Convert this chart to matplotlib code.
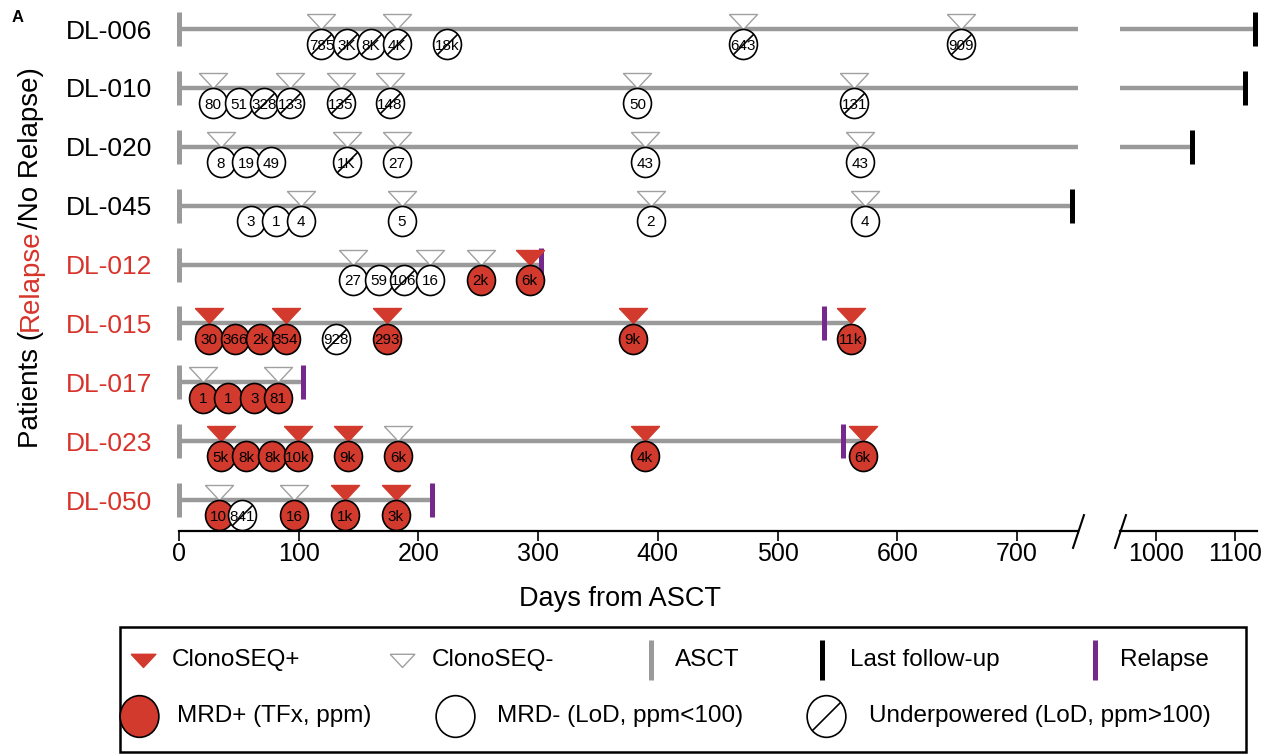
import matplotlib
matplotlib.use("Agg")
import matplotlib.pyplot as plt
from matplotlib.path import Path
from matplotlib.patches import Rectangle

plt.rcParams['font.family'] = ['Liberation Sans', 'DejaVu Sans']

# patients from top to bottom, red = relapse
patients = ["DL-006", "DL-010", "DL-020", "DL-045", "DL-012", "DL-015", "DL-017", "DL-023", "DL-050"]
relapsed = [False, False, False, False, True, True, True, True, True]

# clonoSEQ tests (days from ASCT), True = ClonoSEQ+
clono_days = [[119, 182, 471, 653],
              [28, 93, 135, 176, 383, 564],
              [35, 140, 182, 389, 569],
              [102, 186, 394, 573],
              [145, 210, 252, 293],
              [25, 89, 174, 379, 561],
              [20, 83],
              [35, 99, 141, 183, 389, 571],
              [33, 96, 139, 181]]
clono_pos = [[False] * 4,
             [False] * 6,
             [False] * 5,
             [False] * 4,
             [False, False, False, True],
             [True] * 5,
             [False, False],
             [True, True, True, False, True, True],
             [False, False, True, True]]

# MRD tests: day, value label, status (p = MRD+, n = MRD-, u = underpowered)
mrd_days = [[119, 140, 160, 182, 224, 471, 653],
            [28, 50, 71, 93, 135, 176, 383, 564],
            [35, 56, 77, 140, 182, 389, 569],
            [60, 81, 102, 186, 394, 573],
            [145, 167, 188, 210, 252, 293],
            [25, 47, 68, 89, 131, 174, 379, 561],
            [20, 41, 63, 83],
            [35, 56, 78, 99, 141, 183, 389, 571],
            [33, 53, 96, 139, 181]]
mrd_labels = [["785", "3K", "8K", "4K", "18k", "643", "909"],
              ["80", "51", "328", "133", "135", "148", "50", "131"],
              ["8", "19", "49", "1K", "27", "43", "43"],
              ["3", "1", "4", "5", "2", "4"],
              ["27", "59", "106", "16", "2k", "6k"],
              ["30", "366", "2k", "354", "928", "293", "9k", "11k"],
              ["1", "1", "3", "81"],
              ["5k", "8k", "8k", "10k", "9k", "6k", "4k", "6k"],
              ["10", "841", "16", "1k", "3k"]]
mrd_status = [["u", "u", "u", "u", "u", "u", "u"],
              ["n", "n", "u", "u", "u", "u", "n", "u"],
              ["n", "n", "n", "u", "n", "n", "n"],
              ["n", "n", "n", "n", "n", "n"],
              ["n", "n", "u", "n", "p", "p"],
              ["p", "p", "p", "p", "u", "p", "p", "p"],
              ["p", "p", "p", "p"],
              ["p", "p", "p", "p", "p", "p", "p", "p"],
              ["p", "u", "p", "p", "p"]]

relapse_day = [None, None, None, None, 302, 539, 104, 555, 211]
last_fu = [1124, 1112, 1045, 746, None, None, None, None, None]

left_ticks = [0, 100, 200, 300, 400, 500, 600, 700]
right_ticks = [1000, 1100]

RED = '#d13a2c'
GREY = '#9a9a9a'
PURPLE = '#76288c'
LBLRED = '#d8332b'

W, H = 1278, 755
fig = plt.figure(figsize=(W / 100, H / 100), dpi=100)

ax = fig.add_axes([179 / W, 1 - 531 / H, (1078 - 179) / W, 531 / H])
ax2 = fig.add_axes([1120 / W, 1 - 531 / H, (1257 - 1120) / W, 531 / H])
ax.set_xlim(0, 751)
ax2.set_xlim(955, 1127)
for a in (ax, ax2):
    a.set_ylim(-0.5265, 8.4926)
    for s in ['top', 'left', 'right']:
        a.spines[s].set_visible(False)
    a.spines['bottom'].set_linewidth(1.6)
    a.tick_params(axis='x', length=7, width=1.2, pad=1, labelsize=18)
    a.patch.set_alpha(0)

# marker shapes
circ = Path.unit_circle()
ellipse = Path(circ.vertices * [0.93, 1.0], circ.codes)
tri_down = [(-1, 1.07), (1, 1.07), (0, 0), (-1, 1.07)]
slash = [(-1, -1), (1, 1)]

n = len(patients)
rows = [n - 1 - i for i in range(n)]
cdy = 0.26  # circles sit just under the line

for i in range(n):
    y = rows[i]
    if relapse_day[i] is None:
        end = last_fu[i]
    else:
        end = max(relapse_day[i], max(mrd_days[i]))
    ax.plot([0, end], [y, y], color=GREY, lw=3.2, solid_capstyle='butt', zorder=1)
    ax.plot([0], [y], marker='|', ms=24, mew=3.6, color=GREY, clip_on=False, zorder=1.5)

    if last_fu[i] is not None:
        if last_fu[i] > ax.get_xlim()[1]:
            ax2.plot([0, end], [y, y], color=GREY, lw=3.2, solid_capstyle='butt', zorder=1)
            ax2.plot([last_fu[i]], [y], marker='|', ms=25, mew=3.6, color='black', clip_on=False, zorder=2)
        else:
            ax.plot([last_fu[i]], [y], marker='|', ms=25, mew=3.6, color='black', clip_on=False, zorder=2)
    if relapse_day[i] is not None:
        ax.plot([relapse_day[i]], [y], marker='|', ms=25, mew=3.6, color=PURPLE, zorder=1.8)

    for d, p in zip(clono_days[i], clono_pos[i]):
        ax.plot([d], [y], ls='none', marker=tri_down, ms=21.6,
                mfc=RED if p else 'white', mec=RED if p else '#a0a0a0', mew=1, zorder=2.5)

    for k, (d, lab, s) in enumerate(zip(mrd_days[i], mrd_labels[i], mrd_status[i])):
        z = 3 + k * 0.01
        cy = y - cdy
        ax.plot([d], [cy], ls='none', marker=ellipse, ms=21.6,
                mfc=RED if s == 'p' else 'white', mec='black', mew=1.2, zorder=z, clip_on=False)
        ax.text(d, cy, lab, ha='center', va='center_baseline', fontsize=11, zorder=z + 0.003)
        if s == 'u':
            ax.plot([d], [cy], ls='none', marker=slash, ms=14.5, mec='black', mew=1.2, zorder=z + 0.006)

# axis ticks and labels
ax.set_xticks(left_ticks)
ax2.set_xticks(right_ticks)
ax2.set_yticks([])
ax.set_yticks(rows)
ax.set_yticklabels(patients)
ax.tick_params(axis='y', length=0, pad=19.4, labelsize=19)
for lbl, r in zip(ax.get_yticklabels(), relapsed):
    lbl.set_color(LBLRED if r else 'black')

ax.set_xlabel("Days from ASCT", fontsize=19.5, labelpad=14)
ax.xaxis.label.set_x((620 - 179) / (1078 - 179))

# axis break marks
brk = dict(marker=[(-1, -3), (1, 3)], markersize=25, linestyle='none', color='k', mec='k', mew=1.5, clip_on=False)
ax.plot([1], [0], transform=ax.transAxes, **brk)
ax2.plot([0], [0], transform=ax2.transAxes, **brk)

fig.text(12 / W, 1 - 18 / H, "A", fontsize=12, fontweight='bold', va='center')

# legend drawn on an overlay in pixel units
lg = fig.add_axes([0, 0, 1, 1])
lg.set_xlim(0, W)
lg.set_ylim(H, 0)
lg.axis('off')
lg.add_patch(Rectangle((120, 627), 1126, 125, fill=False, lw=1.8, ec='black'))
r1, r2 = 660, 716
lfs = 17.5
lg.plot([143], [r1 + 7], marker=tri_down, ms=19, mfc=RED, mec=RED, mew=1)
lg.text(172, r1, "ClonoSEQ+", fontsize=lfs, va='center')
lg.plot([402], [r1 + 7], marker=tri_down, ms=19, mfc='white', mec='#a0a0a0', mew=1)
lg.text(432, r1, "ClonoSEQ-", fontsize=lfs, va='center')
lg.plot([651], [r1], marker='|', ms=29, mew=3.6, color=GREY)
lg.text(675, r1, "ASCT", fontsize=lfs, va='center')
lg.plot([822], [r1], marker='|', ms=29, mew=3.6, color='black')
lg.text(850, r1, "Last follow-up", fontsize=lfs, va='center')
lg.plot([1095], [r1], marker='|', ms=29, mew=3.6, color=PURPLE)
lg.text(1120, r1, "Relapse", fontsize=lfs, va='center')
lg.plot([139], [r2], marker=ellipse, ms=30, mfc=RED, mec='black', mew=1.2)
lg.text(177, r2, "MRD+ (TFx, ppm)", fontsize=lfs, va='center')
lg.plot([455], [r2], marker=ellipse, ms=30, mfc='white', mec='black', mew=1.2)
lg.text(497, r2, "MRD- (LoD, ppm<100)", fontsize=lfs, va='center')
lg.plot([826], [r2], marker=ellipse, ms=30, mfc='white', mec='black', mew=1.2)
lg.plot([826], [r2], marker=slash, ms=20, mec='black', mew=1.2)
lg.text(869, r2, "Underpowered (LoD, ppm>100)", fontsize=lfs, va='center')

# y label with "Relapse" in red
fig.canvas.draw()
rend = fig.canvas.get_renderer()
x0, y0 = 38, H - 448
for s, c in [("Patients (", 'black'), ("Relapse", LBLRED), ("/No Relapse)", 'black')]:
    t = fig.text(x0 / W, y0 / H, s, color=c, fontsize=20, rotation=90,
                 rotation_mode='anchor', ha='left', va='baseline')
    y0 = t.get_window_extent(renderer=rend).y1

fig.savefig("out.png", dpi=100)
